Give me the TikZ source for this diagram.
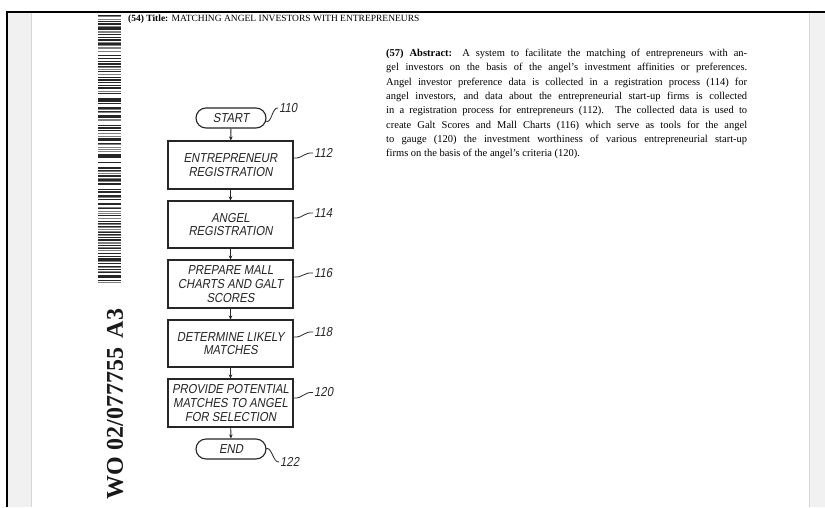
\documentclass[tikz,border=0pt]{standalone}
\usepackage{fontspec}
\setmainfont{Liberation Serif}
\newfontfamily\chartfont[FakeSlant=0.18,FakeStretch=0.87]{Liberation Sans}
\usetikzlibrary{arrows.meta}
\definecolor{ink}{HTML}{262626}
\definecolor{strip}{HTML}{F1F1F1}
\definecolor{stripline}{HTML}{D6D6D6}
\tikzset{
  proc/.style={draw=ink, line width=1.1pt, minimum width=125pt, minimum height=47pt, inner sep=0pt, align=center, text=ink, font=\chartfont\fontsize{13}{13.6}\selectfont},
  term/.style={draw=ink, line width=1.1pt, rounded corners=10pt, minimum width=70pt, minimum height=20pt, inner sep=0pt, text=ink, font=\chartfont\fontsize{13}{13.6}\selectfont},
  reflabel/.style={font=\chartfont\fontsize{13}{14}\selectfont, inner sep=0pt, anchor=west, text=ink},
  flow/.style={draw=ink, line width=0.9pt, -{Stealth[length=4pt,width=3.6pt]}},
  leader/.style={draw=ink, line width=0.8pt},
}
\begin{document}
\begin{tikzpicture}[x=1pt,y=-1pt]
\useasboundingbox (0,0) rectangle (825,507);
% page background
\fill[white] (0,0) rectangle (825,507);
\fill[strip] (8,13) rectangle (31,507);
\draw[stripline, line width=1pt] (31.5,13) -- (31.5,507);
\fill[strip] (809,13) rectangle (825,507);
\draw[stripline, line width=1pt] (809.5,13) -- (809.5,507);
\draw[black, line width=2pt] (7,507) -- (7,12) -- (825,12);
% barcode
\pgfmathsetseed{17}
\foreach \i in {0,...,168}{
  \pgfmathsetmacro\r{rnd}
  \pgfmathsetmacro\yy{13+\i*1.6}
  \ifdim\r pt<0.45pt
    \fill[black!85] (98,\yy) rectangle (121,{\yy+1.1});
  \else\ifdim\r pt<0.8pt
    \fill[gray] (98,\yy) rectangle (121,{\yy+1.0});
  \fi\fi
}
% vertical publication number
\node[rotate=90, font=\bfseries\fontsize{24}{26}\selectfont, text=black!90, inner sep=0pt] (pubno) at (115,404) {WO 02/077755\hspace{10pt}A3};
% title
\node[anchor=west, inner sep=0pt, font=\fontsize{9.5}{11}\selectfont] (title) at (128,19) {\textbf{(54) Title:} MATCHING ANGEL INVESTORS WITH ENTREPRENEURS};
% abstract
\node[anchor=north west, inner sep=0pt, font=\fontsize{10.5}{14.3}\selectfont, align=left] (abstract) at (386,49) {%
\makebox[361pt][s]{\textbf{(57) Abstract:} A system to facilitate the matching of entrepreneurs with an-}\\
\makebox[361pt][s]{gel investors on the basis of the angel's investment affinities or preferences.}\\
\makebox[361pt][s]{Angel investor preference data is collected in a registration process (114) for}\\
\makebox[361pt][s]{angel investors, and data about the entrepreneurial start-up firms is collected}\\
\makebox[361pt][s]{in a registration process for entrepreneurs (112). The collected data is used to}\\
\makebox[361pt][s]{create Galt Scores and Mall Charts (116) which serve as tools for the angel}\\
\makebox[361pt][s]{to gauge (120) the investment worthiness of various entrepreneurial start-up}\\
firms on the basis of the angel's criteria (120).};
% flowchart
\node[term] (start) at (231,118) {START};
\node[proc, minimum height=48pt] (s112) at (230.5,165) {ENTREPRENEUR\\REGISTRATION};
\node[proc] (s114) at (230.5,224.5) {ANGEL\\REGISTRATION};
\node[proc, minimum height=48pt] (s116) at (230.5,284) {PREPARE MALL\\CHARTS AND GALT\\SCORES};
\node[proc] (s118) at (230.5,343.5) {DETERMINE LIKELY\\MATCHES};
\node[proc, minimum height=48pt] (s120) at (230.5,403) {PROVIDE POTENTIAL\\MATCHES TO ANGEL\\FOR SELECTION};
\node[term] (end) at (231,449) {END};
\draw[flow] (start) -- (s112);
\draw[flow] (s112) -- (s114);
\draw[flow] (s114) -- (s116);
\draw[flow] (s116) -- (s118);
\draw[flow] (s118) -- (s120);
\draw[flow] (s120) -- (end);
% reference numerals
\node[reflabel] (n110) at (279,108) {110};
\node[reflabel] (n112) at (314,153) {112};
\node[reflabel] (n114) at (314,213) {114};
\node[reflabel] (n116) at (314,273) {116};
\node[reflabel] (n118) at (314,332) {118};
\node[reflabel] (n120) at (314,392.5) {120};
\node[reflabel] (n122) at (280,462) {122};
\draw[leader] ([xshift=-1pt,yshift=-3pt]start.east) .. controls +(6,4) and +(-6,-1) .. ([xshift=-1pt]n110.west);
\draw[leader] ([yshift=7pt]s112.east) .. controls +(9,1) and +(-9,-1) .. ([xshift=-1pt]n112.west);
\draw[leader] ([yshift=6.5pt]s114.east) .. controls +(9,1) and +(-9,-1) .. ([xshift=-1pt]n114.west);
\draw[leader] ([yshift=7pt]s116.east) .. controls +(9,1) and +(-9,-1) .. ([xshift=-1pt]n116.west);
\draw[leader] ([yshift=6.5pt]s118.east) .. controls +(9,1) and +(-9,-1) .. ([xshift=-1pt]n118.west);
\draw[leader] ([yshift=5pt]s120.east) .. controls +(9,1) and +(-9,-1) .. ([xshift=-1pt]n120.west);
\draw[leader] ([xshift=-1pt]end.east) .. controls +(6,-4) and +(-6,1) .. ([xshift=-1pt]n122.west);
\end{tikzpicture}
\end{document}
